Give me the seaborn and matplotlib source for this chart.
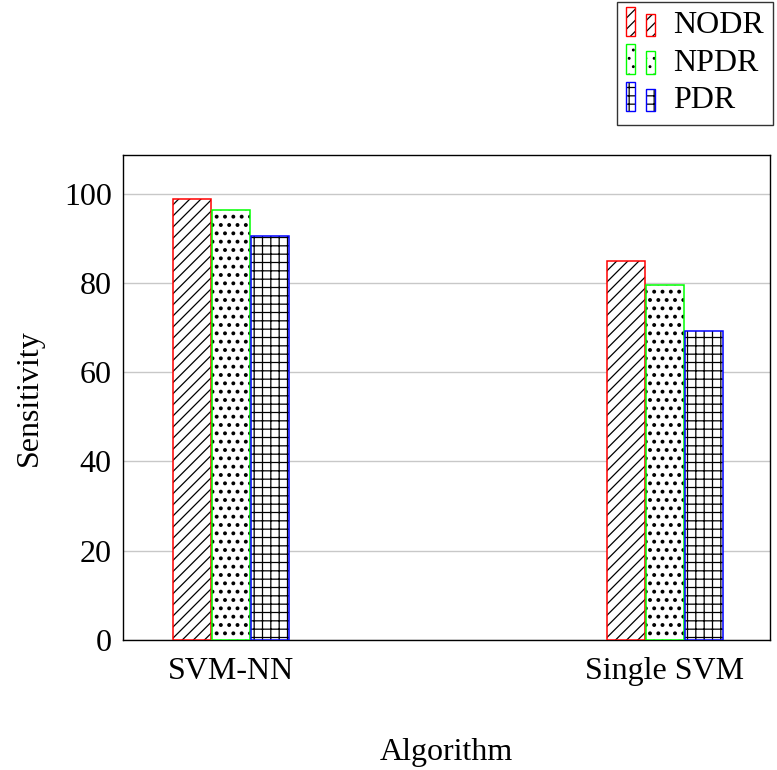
import numpy as np
import pandas as pd
import seaborn as sns
import matplotlib.pyplot as plt
from matplotlib.patches import Rectangle, Patch
from matplotlib.legend_handler import HandlerBase

# dados
algoritmos = ['SVM-NN', 'Single SVM']
nodr = [98.9, 84.8]
npdr = [96.3, 79.5]
pdr = [90.4, 69.1]
series = ['NODR', 'NPDR', 'PDR']

dados = pd.DataFrame({
    'Algorithm': algoritmos * 3,
    'Sensitivity': nodr + npdr + pdr,
    'Serie': [s for s in series for _ in algoritmos],
})

cores = {'NODR': '#ff0000', 'NPDR': '#00ff00', 'PDR': '#0000ff'}
hachuras = {'NODR': '///', 'NPDR': '..', 'PDR': '++'}
espessura = {'NODR': 0.9, 'NPDR': 1.6, 'PDR': 0.9}

sns.set_style('white')
plt.rcParams['font.family'] = ['Liberation Serif', 'DejaVu Serif']
plt.rcParams['hatch.linewidth'] = 0.9
plt.rcParams['text.color'] = 'black'
plt.rcParams['axes.labelcolor'] = 'black'

fig = plt.figure(figsize=(7.77, 7.70), dpi=100)
ax = fig.add_axes([0.158, 0.169, 0.833, 0.630])

sns.barplot(data=dados, x='Algorithm', y='Sensitivity', hue='Serie',
            hue_order=series, palette=['white'] * 3, width=0.27, gap=0.035,
            legend=False, ax=ax, zorder=3)


def hachura(p, serie):
    p.set_hatch(hachuras[serie])
    if hasattr(p, 'set_hatch_linewidth'):
        p.set_hatch_linewidth(espessura[serie])


# hachura preta + contorno colorido
for serie, cont in zip(series, ax.containers):
    for barra in cont:
        hachura(barra, serie)
        barra.set_edgecolor('black')
        barra.set_linewidth(0)
        ax.add_patch(Rectangle(barra.get_xy(), barra.get_width(), barra.get_height(),
                               fill=False, edgecolor=cores[serie], lw=1.1, zorder=4))

ax.set_xlim(-0.249, 1.242)
ax.set_ylim(0, 108.7)
ax.set_yticks([0, 20, 40, 60, 80, 100])
ax.yaxis.grid(True, color='#c8c8c8', lw=1.0, zorder=0)
ax.set_axisbelow(True)
for lado in ax.spines.values():
    lado.set_color('black')
    lado.set_linewidth(1.0)
ax.tick_params(axis='both', labelsize=23, colors='black', direction='in', length=4)
ax.tick_params(axis='y', pad=8)
ax.tick_params(axis='x', pad=12)
ax.set_xlabel('Algorithm', fontsize=23, labelpad=38)
ax.set_ylabel('Sensitivity', fontsize=23, labelpad=14)


class DuasBarras(HandlerBase):
    def create_artists(self, legend, orig, xd, yd, width, height, fontsize, trans):
        artistas = []
        w = width * 0.27
        base = -yd - height * 0.12
        for x0, h in [(0, height * 1.3), (width * 0.62, height * 1.0)]:
            r1 = Rectangle((x0, base), w, h, facecolor='white', edgecolor='black',
                           lw=0, hatch=orig.get_hatch(), transform=trans)
            r2 = Rectangle((x0, base), w, h, fill=False, edgecolor=orig.get_edgecolor(),
                           lw=1.0, transform=trans)
            artistas += [r1, r2]
        return artistas


alcas = [Patch(facecolor='white', edgecolor=cores[s], hatch=hachuras[s], label=s) for s in series]
leg = fig.legend(handles=alcas, loc='upper right', bbox_to_anchor=(0.995, 0.998),
                 fontsize=23, frameon=True, fancybox=False, edgecolor='black',
                 handler_map={Patch: DuasBarras()}, handlelength=1.0,
                 handletextpad=0.45, labelspacing=0.25, borderpad=0.3,
                 borderaxespad=0.0)
leg.get_frame().set_linewidth(1.0)

plt.savefig('out.png', dpi=100)
